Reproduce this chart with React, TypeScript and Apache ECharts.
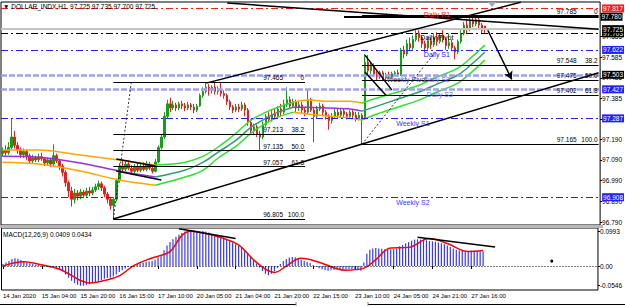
import React, { useEffect, useRef } from "react";
import * as echarts from "echarts";

// ---------- DATA ----------
const titleText = "▼ DOLLAR_INDX,H1  97.725 97.735 97.700 97.725";
const macdTitle = "MACD(12,26,9) 0.0409 0.0434";

// open, close, low, high
const candles: number[][] = [
  [97.120,97.135,97.105,97.150],[97.135,97.125,97.110,97.160],[97.125,97.150,97.115,97.175],[97.150,97.200,97.140,97.290],
  [97.200,97.160,97.145,97.230],[97.160,97.140,97.120,97.175],[97.140,97.115,97.100,97.150],[97.115,97.130,97.100,97.145],
  [97.130,97.110,97.090,97.140],[97.110,97.085,97.070,97.120],[97.085,97.100,97.075,97.115],[97.100,97.090,97.080,97.110],
  [97.090,97.105,97.080,97.120],[97.105,97.095,97.085,97.125],[97.095,97.075,97.060,97.105],[97.075,97.090,97.065,97.100],
  [97.090,97.070,97.055,97.100],[97.070,97.110,97.060,97.165],[97.110,97.085,97.075,97.120],[97.085,97.060,97.040,97.095],
  [97.060,97.030,97.010,97.070],[97.030,96.980,96.960,97.040],[96.980,96.940,96.910,96.990],[96.940,96.900,96.865,96.960],
  [96.900,96.930,96.880,96.950],[96.930,96.915,96.895,96.945],[96.915,96.935,96.900,96.950],[96.935,96.920,96.905,96.945],
  [96.920,96.940,96.910,96.955],[96.940,96.930,96.915,96.960],[96.930,96.945,96.920,96.960],[96.945,96.960,96.935,96.975],
  [96.960,96.975,96.945,96.990],[96.975,96.955,96.940,96.985],[96.955,96.925,96.910,96.965],[96.925,96.900,96.880,96.935],
  [96.900,96.870,96.850,96.910],[96.870,96.900,96.805,96.910],[96.900,96.990,96.890,97.000],[96.990,97.060,96.980,97.075],
  [97.060,97.045,97.030,97.090],[97.045,97.070,97.035,97.085],[97.070,97.050,97.040,97.090],[97.050,97.035,97.020,97.065],
  [97.035,97.055,97.025,97.070],[97.055,97.040,97.030,97.075],[97.040,97.060,97.030,97.080],[97.060,97.045,97.035,97.080],
  [97.045,97.065,97.035,97.085],[97.065,97.050,97.040,97.080],[97.050,97.035,97.025,97.065],[97.035,97.080,97.030,97.095],
  [97.080,97.150,97.075,97.160],[97.150,97.200,97.140,97.215],[97.200,97.300,97.190,97.320],[97.300,97.360,97.290,97.380],
  [97.360,97.340,97.320,97.390],[97.340,97.355,97.330,97.375],[97.355,97.340,97.325,97.365],[97.340,97.360,97.330,97.370],
  [97.360,97.350,97.335,97.375],[97.350,97.340,97.325,97.365],[97.340,97.355,97.330,97.370],[97.355,97.345,97.330,97.365],
  [97.345,97.330,97.315,97.360],[97.330,97.350,97.320,97.360],[97.350,97.400,97.345,97.410],[97.400,97.420,97.390,97.440],
  [97.420,97.440,97.410,97.465],[97.440,97.425,97.400,97.455],[97.425,97.440,97.410,97.450],[97.440,97.420,97.405,97.465],
  [97.420,97.430,97.405,97.445],[97.430,97.410,97.395,97.465],[97.410,97.400,97.385,97.425],[97.400,97.370,97.355,97.410],
  [97.370,97.345,97.330,97.380],[97.345,97.330,97.315,97.355],[97.330,97.345,97.320,97.360],[97.345,97.335,97.320,97.360],
  [97.335,97.355,97.325,97.370],[97.355,97.330,97.300,97.365],[97.330,97.270,97.255,97.340],[97.270,97.230,97.210,97.285],
  [97.230,97.250,97.215,97.265],[97.250,97.215,97.200,97.260],[97.215,97.200,97.135,97.230],[97.200,97.260,97.190,97.275],
  [97.260,97.300,97.250,97.310],[97.300,97.285,97.270,97.320],[97.285,97.310,97.275,97.330],[97.310,97.300,97.285,97.340],
  [97.300,97.335,97.295,97.350],[97.335,97.320,97.300,97.360],[97.320,97.360,97.310,97.380],[97.360,97.380,97.345,97.440],
  [97.380,97.350,97.335,97.395],[97.350,97.370,97.340,97.385],[97.370,97.340,97.320,97.380],[97.340,97.355,97.325,97.370],
  [97.355,97.330,97.315,97.370],[97.330,97.320,97.300,97.345],[97.320,97.380,97.310,97.430],[97.380,97.330,97.320,97.390],
  [97.330,97.300,97.175,97.340],[97.300,97.335,97.290,97.350],[97.335,97.350,97.325,97.365],[97.350,97.320,97.305,97.360],
  [97.320,97.300,97.285,97.330],[97.300,97.280,97.235,97.310],[97.280,97.300,97.265,97.315],[97.300,97.320,97.290,97.335],
  [97.320,97.305,97.290,97.340],[97.305,97.325,97.295,97.340],[97.325,97.310,97.295,97.335],[97.310,97.300,97.285,97.320],
  [97.300,97.320,97.290,97.330],[97.320,97.305,97.290,97.330],[97.305,97.290,97.275,97.320],[97.290,97.305,97.280,97.320],
  [97.305,97.290,97.165,97.315],[97.290,97.560,97.285,97.600],[97.560,97.520,97.500,97.595],[97.520,97.545,97.505,97.560],
  [97.545,97.505,97.490,97.555],[97.505,97.490,97.470,97.520],[97.490,97.510,97.480,97.520],[97.510,97.485,97.470,97.520],
  [97.485,97.500,97.475,97.510],[97.500,97.490,97.480,97.515],[97.490,97.505,97.480,97.515],[97.505,97.510,97.495,97.520],
  [97.510,97.500,97.490,97.525],[97.500,97.620,97.495,97.630],[97.620,97.600,97.580,97.640],[97.600,97.650,97.590,97.670],
  [97.650,97.630,97.615,97.680],[97.630,97.670,97.620,97.690],[97.670,97.700,97.660,97.715],[97.700,97.680,97.660,97.715],
  [97.680,97.650,97.630,97.690],[97.650,97.630,97.610,97.665],[97.630,97.665,97.620,97.680],[97.665,97.645,97.625,97.680],
  [97.645,97.680,97.635,97.700],[97.680,97.660,97.640,97.705],[97.660,97.690,97.650,97.700],[97.690,97.670,97.655,97.720],
  [97.670,97.640,97.620,97.680],[97.640,97.655,97.625,97.700],[97.655,97.630,97.615,97.670],[97.630,97.610,97.575,97.640],
  [97.610,97.660,97.600,97.670],[97.660,97.700,97.650,97.715],[97.700,97.740,97.690,97.755],[97.740,97.720,97.700,97.770],
  [97.720,97.760,97.710,97.780],[97.760,97.745,97.730,97.785],[97.745,97.765,97.735,97.780],[97.765,97.740,97.725,97.775],
  [97.740,97.715,97.700,97.750],[97.735,97.725,97.700,97.735],
];
const futureSlots = 38;

const tickBars = [0, 13, 26, 39, 52, 65, 78, 91, 104, 118, 131, 144, 157];
const tickLabels = ["14 Jan 2020", "15 Jan 04:00", "15 Jan 20:00", "16 Jan 15:00", "17 Jan 10:00", "20 Jan 05:00",
  "21 Jan 04:00", "21 Jan 20:00", "22 Jan 15:00", "23 Jan 10:00", "24 Jan 05:00", "24 Jan 21:00", "27 Jan 16:00"];

const priceTicks = [96.79, 96.89, 96.99, 97.09, 97.19, 97.285, 97.385, 97.485, 97.585, 97.685, 97.785];
const macdTicks = [-0.0546, 0, 0.0993];

// envelope bands [bar, price]
const upperBand = [[0,97.137],[12,97.137],[26,97.113],[39,97.089],[51,97.065],[61,97.079],[67,97.108],[72,97.152],[78,97.219],[83,97.282],[88,97.320],[92,97.344],[97,97.368],[102,97.378],[109,97.373],[116,97.373],[120,97.364],[125,97.388],[132,97.417],[139,97.450],[145,97.489],[152,97.532],[157,97.590],[161,97.643]];
const midBand = [[0,97.108],[12,97.103],[26,97.075],[39,97.036],[51,97.007],[61,97.041],[67,97.079],[72,97.127],[78,97.185],[83,97.248],[88,97.291],[92,97.320],[97,97.344],[102,97.344],[109,97.340],[116,97.335],[120,97.325],[125,97.349],[132,97.383],[139,97.417],[145,97.455],[152,97.499],[157,97.556],[161,97.609]];
const lowerBand = [[0,97.079],[12,97.070],[26,97.036],[39,96.993],[51,96.968],[61,97.007],[67,97.041],[72,97.099],[78,97.156],[83,97.219],[88,97.267],[92,97.296],[97,97.320],[102,97.311],[109,97.301],[116,97.291],[120,97.282],[125,97.311],[132,97.344],[139,97.378],[145,97.417],[152,97.460],[157,97.518],[161,97.571]];
const flatZones = [[0, 51], [97, 120]];
const upZones = [[51, 97], [120, 161]];

const macdHist = [
  0.006,0.010,0.014,0.020,0.022,0.021,0.017,0.013,0.010,0.008,0.006,0.004,0.003,0.002,0.000,
  -0.002,-0.004,-0.003,-0.005,-0.009,-0.015,-0.024,-0.033,-0.042,-0.048,
  -0.053,-0.056,-0.056,-0.054,-0.052,-0.049,-0.046,-0.042,-0.039,-0.036,
  -0.034,-0.033,-0.030,-0.024,-0.017,-0.012,-0.007,-0.003,0.001,0.004,
  0.006,0.008,0.010,0.012,0.013,0.014,0.018,0.024,0.032,0.045,
  0.058,0.068,0.076,0.083,0.089,0.094,0.098,0.101,0.103,0.102,
  0.100,0.099,0.100,0.098,0.095,0.092,0.089,0.086,0.083,0.080,
  0.076,0.072,0.067,0.062,0.057,0.051,0.045,0.037,0.027,0.017,
  0.007,-0.004,-0.014,-0.022,-0.026,-0.022,-0.015,-0.005,0.006,0.014,
  0.020,0.024,0.026,0.025,0.022,0.018,0.014,0.012,0.009,0.003,
  -0.002,-0.006,-0.009,-0.012,-0.013,-0.012,-0.011,-0.010,-0.009,-0.009,
  -0.010,-0.010,-0.011,-0.011,-0.012,-0.013,0.010,0.035,0.046,0.050,
  0.051,0.050,0.049,0.048,0.047,0.047,0.048,0.049,0.056,0.060,
  0.064,0.068,0.072,0.075,0.076,0.075,0.074,0.073,0.071,0.070,
  0.069,0.067,0.065,0.062,0.058,0.054,0.050,0.046,0.044,0.043,
  0.040,0.042,0.044,0.044,0.043,0.042,0.041,
];
const macdSignal = [[0,0.000],[7,0.012],[12,0.005],[19,-0.009],[26,-0.041],[29,-0.048],[34,-0.041],[39,-0.028],[44,0.002],[50,0.023],[52,0.028],[56,0.041],[60,0.087],[63,0.099],[67,0.094],[73,0.081],[79,0.060],[84,0.018],[88,-0.009],[91,-0.018],[95,0.000],[100,0.022],[106,0.011],[111,-0.005],[115,-0.012],[121,-0.006],[125,0.018],[130,0.051],[136,0.053],[143,0.078],[149,0.064],[156,0.041],[161,0.044]];
const macdTrends = [[[59, 0.106], [78, 0.078]], [[139, 0.082], [165, 0.054]]];
const macdDot = [184, 0.014];

const pivotNames = ["Daily R1", "Daily Pivot", "Daily S1", "Daily S2", "Daily S3", "Weekly S1", "Weekly S2"];
const pivotPrices = [97.817, 97.703, 97.622, 97.503, 97.427, 97.287, 96.908];
const weeklyPivotName = "Weekly Pivot";
const bidPrice = 97.725;
const highLevel = 97.780;
const highLevelFrom = 114;

const fibALevels = [97.465, 97.213, 97.135, 97.057, 96.805];
const fibBLevels = [97.785, 97.548, 97.475, 97.402, 97.165];
const fibRatios = ["0", "38.2", "50.0", "61.8", "100.0"];
const fibABars = [37, 101];
const fibBBars = [120, 199];

const trendLines = [
  [[75, 97.846], [199, 97.720]],
  [[68, 97.460], [173, 97.850]],
  [[37, 96.805], [199, 97.510]],
  [[38, 97.094], [51, 97.060]],
  [[38, 97.036], [53, 96.993]],
  [[121, 97.595], [130, 97.426]],
  [[121, 97.513], [128, 97.402]],
];
const dottedLines = [
  [[37, 96.805], [43, 97.465]],
  [[120, 97.165], [145, 97.619]],
];
const arrowLine = [[162, 97.715], [170, 97.478]];

// ---------- STYLES ----------
const FONT = "'Liberation Sans', Arial, sans-serif";
const DASHDOT = [7, 3, 2, 3];
const pivotStyle: Record<string, any> = {
  "Daily R1": { line: "#ff1a1a", box: "#ff1a1a", text: "#ff1a1a", dash: DASHDOT, w: 1, at: 145 },
  "Daily Pivot": { line: "#000000", box: "#000000", text: "#000000", dash: DASHDOT, w: 1, at: 145 },
  "Daily S1": { line: "#2020ff", box: "#2020ff", text: "#2020ff", dash: DASHDOT, w: 1, at: 145 },
  "Daily S2": { line: "#a0a0f0", box: "#000000", text: "#6a6af0", dash: [6, 2], w: 2.5, at: 145 },
  "Daily S3": { line: "#a0a0f0", box: "#2020ff", text: "#6a6af0", dash: [6, 2], w: 2.5, at: 146 },
  "Weekly S1": { line: "#2020ff", box: "#2020ff", text: "#3a3aff", dash: DASHDOT, w: 1, at: 137 },
  "Weekly S2": { line: "#2020ff", box: "#2020ff", text: "#3a3aff", dash: DASHDOT, w: 1, at: 137 },
};

function boxLabel(text: string, bg: string) {
  return {
    show: true, position: "end", distance: 2, formatter: text, color: "#fff", backgroundColor: bg,
    padding: [1, 1, 0, 1], fontSize: 6.5, lineHeight: 7, fontFamily: FONT,
  };
}
function fibLabel(v: number, r: string) {
  return {
    show: true, position: "insideEndTop", distance: 1,
    formatter: `{v|${v.toFixed(3)}}{l|${r}}`,
    rich: {
      v: { fontSize: 6.5, color: "#000", fontFamily: FONT },
      l: { fontSize: 6.5, color: "#000", fontFamily: FONT, width: 21, align: "right" },
    },
  };
}

export default function App() {
  const ref = useRef<HTMLDivElement>(null);
  useEffect(() => {
    if (!ref.current) return;
    const chart = echarts.init(ref.current, undefined, { renderer: "svg" });
    const slots = Array.from({ length: candles.length + futureSlots }, (_, i) => String(i));
    const lastSlot = slots.length - 1;

    const mainLines: any[] = [];
    pivotNames.forEach((n, k) => {
      const s = pivotStyle[n];
      mainLines.push({ yAxis: pivotPrices[k], lineStyle: { color: s.line, type: s.dash, width: s.w }, label: boxLabel(pivotPrices[k].toFixed(3), s.box) });
    });
    mainLines.push({ yAxis: bidPrice, lineStyle: { color: "#c4c4c4", type: "solid", width: 2 }, label: boxLabel(bidPrice.toFixed(3), "#000") });
    mainLines.push([{ coord: [highLevelFrom, highLevel], lineStyle: { color: "#000", type: "solid", width: 2 }, label: boxLabel(highLevel.toFixed(3), "#000") }, { coord: [lastSlot, highLevel] }]);
    fibALevels.forEach((v, k) => {
      mainLines.push([{ coord: [fibABars[0], v], lineStyle: { color: "#000", type: "solid", width: 1 }, label: fibLabel(v, fibRatios[k]) }, { coord: [fibABars[1], v] }]);
    });
    fibBLevels.forEach((v, k) => {
      mainLines.push([{ coord: [fibBBars[0], v], lineStyle: { color: "#000", type: "solid", width: 1 }, label: fibLabel(v, fibRatios[k]) }, { coord: [Math.min(fibBBars[1], lastSlot), v] }]);
    });
    trendLines.forEach((l) => {
      mainLines.push([{ coord: l[0], lineStyle: { color: "#000", type: "solid", width: 1.5 } }, { coord: l[1] }]);
    });
    dottedLines.forEach((l) => {
      mainLines.push([{ coord: l[0], lineStyle: { color: "#000", type: [2, 2], width: 0.8 } }, { coord: l[1] }]);
    });
    mainLines.push([{ coord: arrowLine[0], symbol: "none", lineStyle: { color: "#000", type: "solid", width: 1.5, curveness: -0.25 } }, { coord: arrowLine[1], symbol: "arrow", symbolSize: [7, 8] }]);

    const labelPoints: any[] = pivotNames.map((n, k) => ({
      coord: [pivotStyle[n].at, pivotPrices[k]],
      label: { formatter: n, color: pivotStyle[n].text },
    }));
    labelPoints.unshift({ coord: [135, pivotPrices[3]], label: { formatter: weeklyPivotName, color: "#333399" } });

    const bandDefs = [
      { pts: upperBand, flat: "#ffa500", up: "#2be32b" },
      { pts: midBand, flat: "#9b30d9", up: "#2e9e6e" },
      { pts: lowerBand, flat: "#ffa500", up: "#2be32b" },
    ];
    const bandSeries: any[] = [];
    bandDefs.forEach((b) => {
      [[flatZones, b.flat], [upZones, b.up]].forEach(([zones, color]: any) => {
        zones.forEach((z: number[]) => {
          bandSeries.push({
            type: "line", xAxisIndex: 0, yAxisIndex: 0, z: 4, silent: true,
            data: b.pts.filter((p) => p[0] >= z[0] && p[0] <= z[1]),
            showSymbol: false, smooth: 0.35, lineStyle: { color, width: 1.5 },
          });
        });
      });
    });

    const showTick = (i: number) => tickBars.includes(i);

    const option: any = {
      animation: false,
      backgroundColor: "#fff",
      textStyle: { fontFamily: FONT },
      title: [
        { text: titleText, left: 3, top: 3, padding: 0, textStyle: { fontSize: 6.5, fontWeight: "normal", color: "#000", fontFamily: FONT } },
        { text: macdTitle, left: 3, top: 231, padding: 0, textStyle: { fontSize: 6.5, fontWeight: "normal", color: "#000", fontFamily: FONT } },
      ],
      grid: [
        { left: 1, right: 22, top: 2, height: 223, show: true, borderColor: "#000", borderWidth: 1, backgroundColor: "#fff" },
        { left: 1, right: 22, top: 228, height: 62, show: true, borderColor: "#000", borderWidth: 1, backgroundColor: "#fff" },
      ],
      xAxis: [
        { type: "category", gridIndex: 0, data: slots, boundaryGap: true, show: false },
        {
          type: "category", gridIndex: 1, data: slots, boundaryGap: true,
          axisLine: { show: false },
          axisTick: { show: true, alignWithLabel: true, interval: showTick, length: 3, lineStyle: { color: "#000" } },
          axisLabel: {
            interval: showTick, align: "left", margin: 3, fontSize: 6, color: "#000", fontFamily: FONT,
            formatter: (_v: string, i: number) => tickLabels[tickBars.indexOf(i)] ?? "",
          },
        },
      ],
      yAxis: [
        {
          type: "value", gridIndex: 0, position: "right", min: 96.776, max: 97.851, scale: true,
          splitLine: { show: false }, axisLine: { show: false },
          axisTick: { show: true, length: 2, customValues: priceTicks, lineStyle: { color: "#000" } },
          axisLabel: { customValues: priceTicks, formatter: (v: number) => v.toFixed(3), fontSize: 6.5, margin: 2, color: "#000", fontFamily: FONT },
        },
        {
          type: "value", gridIndex: 1, position: "right", min: -0.068, max: 0.108, scale: true,
          splitLine: { show: false }, axisLine: { show: false },
          axisTick: { show: true, length: 2, customValues: macdTicks, lineStyle: { color: "#000" } },
          axisLabel: {
            customValues: macdTicks, fontSize: 6.5, margin: 2, color: "#000", fontFamily: FONT,
            formatter: (v: number) => (v === 0 ? "0.00" : String(v)),
          },
        },
      ],
      series: [
        {
          type: "candlestick", xAxisIndex: 0, yAxisIndex: 0, data: candles, barWidth: 2, z: 3,
          itemStyle: { color: "#14a014", color0: "#ee1c1c", borderColor: "#14a014", borderColor0: "#ee1c1c", borderWidth: 1 },
          markLine: { silent: true, animation: false, symbol: ["none", "none"], label: { show: false }, data: mainLines },
          markPoint: {
            silent: true, animation: false, symbol: "circle", symbolSize: 1, itemStyle: { color: "rgba(0,0,0,0)" },
            label: { show: true, position: "bottom", distance: 1, fontSize: 7, fontFamily: FONT },
            data: labelPoints,
          },
        },
        ...bandSeries,
        {
          type: "bar", xAxisIndex: 1, yAxisIndex: 1, data: macdHist, barWidth: 1.2, z: 2, silent: true,
          itemStyle: { color: "#3636ff" },
          markLine: {
            silent: true, animation: false, symbol: ["none", "none"], label: { show: false },
            data: [
              { yAxis: 0, lineStyle: { color: "#000", type: [1, 2], width: 1 } },
              ...macdTrends.map((l) => [{ coord: l[0], lineStyle: { color: "#000", type: "solid", width: 1.5 } }, { coord: l[1] }]),
            ],
          },
          markPoint: {
            silent: true, animation: false, symbol: "circle", symbolSize: 3, itemStyle: { color: "#000" }, label: { show: false },
            data: [{ coord: macdDot }],
          },
        },
        {
          type: "line", xAxisIndex: 1, yAxisIndex: 1, data: macdSignal, smooth: 0.4, showSymbol: false, z: 3, silent: true,
          lineStyle: { color: "#ff0000", width: 1.5 },
        },
      ],
      graphic: [
        { type: "rect", shape: { x: 0, y: 225, width: 603, height: 3 }, style: { fill: "#b8b8b8" }, z: 100 },
        { type: "polygon", shape: { points: [[488, 2], [496, 2], [492, 7]] }, style: { fill: "#a8a8a8" }, z: 100 },
        { type: "line", shape: { x1: 0, y1: 304.5, x2: 296, y2: 304.5 }, style: { stroke: "#000", lineWidth: 1 }, z: 100 },
        { type: "line", shape: { x1: 368, y1: 304.5, x2: 625, y2: 304.5 }, style: { stroke: "#000", lineWidth: 1 }, z: 100 },
        { type: "line", shape: { x1: 296, y1: 302, x2: 296, y2: 306 }, style: { stroke: "#888", lineWidth: 1 }, z: 100 },
        { type: "line", shape: { x1: 368, y1: 302, x2: 368, y2: 306 }, style: { stroke: "#888", lineWidth: 1 }, z: 100 },
      ],
    };
    chart.setOption(option);
    return () => chart.dispose();
  }, []);
  return <div ref={ref} style={{ position: "fixed", left: 0, top: 0, width: 625, height: 306 }} />;
}
